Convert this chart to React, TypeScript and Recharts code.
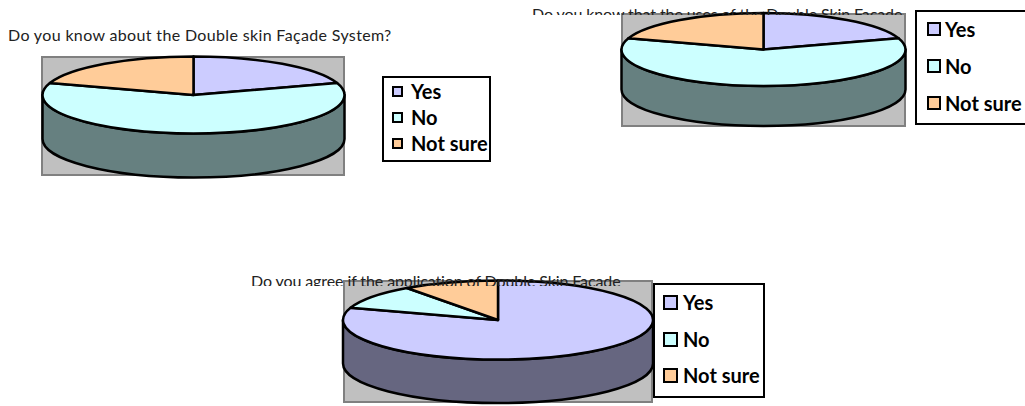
import { Legend, Pie, PieChart } from "recharts";

const categories = ["Yes", "No", "Not sure"];
const awarenessValues = [20, 60, 20];
const usesValues = [20, 60, 20];
const agreeValues = [80, 10, 10];

const topColors = ["#CCCCFF", "#CCFFFF", "#FFCC99"];
const wallColors = ["#666680", "#668080", "#806640"];

const FONT = "Lato, 'Open Sans', sans-serif";
const INK = "#000000";

const rowsFor = (values: number[], colors: string[]) =>
  categories.map((name, i) => ({ name, value: values[i], fill: colors[i] }));

const charts = [
  {
    title: "Do you know about the Double skin Façade System?",
    values: awarenessValues,
    titleBox: { left: 8, top: 23, width: 400, height: 26, letterSpacing: 0.35 },
    plot: { left: 41, top: 56, width: 304, height: 120 },
    pie: { cx: 193.5, cy: 95, rx: 151, ry: 38.5, depth: 44 },
    legend: { left: 382, top: 76, width: 109, height: 86, swatch: 11, swatchX: 10, textX: 29, fontSize: 20, rows: [15, 41, 67] },
  },
  {
    title: "Do you know that the uses of the Double Skin Facade",
    values: usesValues,
    titleBox: { left: 532, top: 2, width: 400, height: 13, letterSpacing: -0.1 },
    plot: { left: 621, top: 13, width: 285, height: 114 },
    pie: { cx: 763.5, cy: 49.5, rx: 142, ry: 36.5, depth: 40 },
    legend: { left: 915, top: 10, width: 115, height: 115, swatch: 14, swatchX: 12, textX: 30, fontSize: 20, rows: [19, 56, 93] },
  },
  {
    title: "Do you agree if the application of Double Skin Facade",
    values: agreeValues,
    titleBox: { left: 251, top: 269, width: 400, height: 17, letterSpacing: -0.1 },
    plot: { left: 343, top: 280, width: 310, height: 123 },
    pie: { cx: 498, cy: 320, rx: 155, ry: 39.5, depth: 43.5 },
    legend: { left: 653, top: 283, width: 112, height: 115, swatch: 15, swatchX: 10, textX: 30, fontSize: 20, rows: [19, 56, 92] },
  },
];

const point = (cx: number, cy: number, rx: number, ry: number, deg: number) => {
  const a = (deg * Math.PI) / 180;
  return { x: cx + rx * Math.cos(a), y: cy - ry * Math.sin(a) };
};

// flat top of the pie: recharts gives the angles, we squash the circle to an ellipse
const topSlice = (rx: number, ry: number) => (props: any) => {
  const { cx, cy, startAngle, endAngle, fill } = props;
  const a = point(cx, cy, rx, ry, startAngle);
  const b = point(cx, cy, rx, ry, endAngle);
  const large = Math.abs(startAngle - endAngle) > 180 ? 1 : 0;
  const sweep = startAngle > endAngle ? 1 : 0;
  return (
    <path
      d={`M${cx},${cy} L${a.x},${a.y} A${rx},${ry} 0 ${large} ${sweep} ${b.x},${b.y} Z`}
      fill={fill}
      stroke={INK}
      strokeWidth={2.5}
      strokeLinejoin="round"
    />
  );
};

// side wall: only the part of each slice on the front half of the ellipse
const wallSlice = (rx: number, ry: number, depth: number) => (props: any) => {
  const { cx, cy, startAngle, endAngle, fill } = props;
  const hi = Math.min(Math.max(startAngle, endAngle), 0);
  const lo = Math.max(Math.min(startAngle, endAngle), -180);
  if (hi <= lo) return <g />;
  const a = point(cx, cy, rx, ry, hi);
  const b = point(cx, cy, rx, ry, lo);
  return (
    <path
      d={`M${a.x},${a.y} A${rx},${ry} 0 0 1 ${b.x},${b.y} L${b.x},${b.y + depth} A${rx},${ry} 0 0 0 ${a.x},${a.y + depth} Z`}
      fill={fill}
      stroke={INK}
      strokeWidth={2.5}
      strokeLinejoin="round"
    />
  );
};

const legendBox = (box: any) => (props: any) => (
  <div
    style={{
      position: "relative",
      width: box.width,
      height: box.height,
      boxSizing: "border-box",
      background: "#fff",
      border: "2px solid #000",
      fontFamily: FONT,
      fontWeight: 700,
      fontSize: box.fontSize,
      color: INK,
    }}
  >
    {(props.payload || [])
      .filter((item: any) => item.type !== "none")
      .map((item: any, i: number) => (
        <div key={item.value}>
          <span
            style={{
              position: "absolute",
              left: box.swatchX - 2,
              top: box.rows[i] - box.swatch / 2 - 2,
              width: box.swatch,
              height: box.swatch,
              boxSizing: "border-box",
              background: item.color,
              border: "2px solid #000",
            }}
          />
          <span
            style={{
              position: "absolute",
              left: box.textX - 2,
              top: box.rows[i] - 16,
              lineHeight: "28px",
              whiteSpace: "nowrap",
            }}
          >
            {item.value}
          </span>
        </div>
      ))}
  </div>
);

const DoubleSkinPie = ({ chart }: { chart: (typeof charts)[number] }) => {
  const { pie, legend, plot, titleBox } = chart;
  const { left, top, width, height, letterSpacing } = titleBox;
  return (
    <>
      <div
        style={{
          position: "absolute",
          ...plot,
          boxSizing: "border-box",
          background: "#C0C0C0",
          border: "2px solid #808080",
        }}
      />
      <div style={{ position: "absolute", left: 0, top: 0 }}>
        <PieChart width={1025} height={406} margin={{ top: 0, right: 0, bottom: 0, left: 0 }}>
          <Pie
            data={rowsFor(chart.values, wallColors)}
            dataKey="value"
            nameKey="name"
            cx={pie.cx}
            cy={pie.cy}
            outerRadius={pie.rx}
            startAngle={90}
            endAngle={-270}
            legendType="none"
            shape={wallSlice(pie.rx, pie.ry, pie.depth)}
            isAnimationActive={false}
          />
          <Pie
            data={rowsFor(chart.values, topColors)}
            dataKey="value"
            nameKey="name"
            cx={pie.cx}
            cy={pie.cy}
            outerRadius={pie.rx}
            startAngle={90}
            endAngle={-270}
            shape={topSlice(pie.rx, pie.ry)}
            isAnimationActive={false}
          />
          <Legend
            itemSorter={null}
            content={legendBox(legend)}
            wrapperStyle={{ left: legend.left, top: legend.top, width: legend.width, height: legend.height }}
          />
        </PieChart>
      </div>
      <div
        style={{
          position: "absolute",
          left,
          top,
          width,
          height,
          overflow: "hidden",
          fontFamily: FONT,
          fontSize: 16,
          lineHeight: "24px",
          letterSpacing,
          whiteSpace: "nowrap",
          color: "#222",
        }}
      >
        {chart.title}
      </div>
    </>
  );
};

export default function App() {
  return (
    <div style={{ position: "absolute", left: 0, top: 0, width: 1025, height: 406, overflow: "hidden", background: "#fff" }}>
      {charts.map((chart) => (
        <DoubleSkinPie key={chart.title} chart={chart} />
      ))}
    </div>
  );
}
